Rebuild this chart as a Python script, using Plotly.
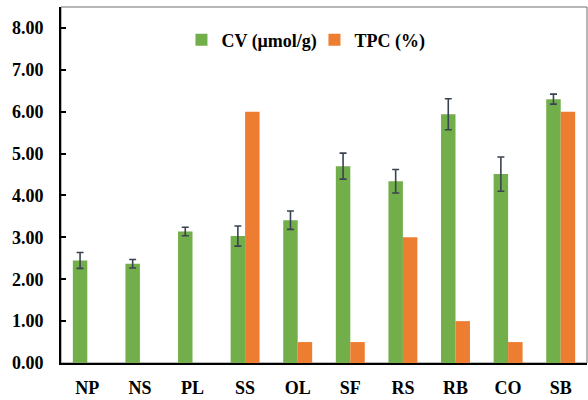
import plotly.graph_objects as go

# Samples and measured values
categories = ["NP", "NS", "PL", "SS", "OL", "SF", "RS", "RB", "CO", "SB"]
cv_values = [2.45, 2.37, 3.14, 3.03, 3.41, 4.70, 4.34, 5.94, 4.51, 6.30]
cv_errors = [0.19, 0.10, 0.10, 0.24, 0.22, 0.31, 0.28, 0.37, 0.41, 0.12]
tpc_values = [0, 0, 0, 6.0, 0.5, 0.5, 3.0, 1.0, 0.5, 6.0]
y_ticks = [0, 1, 2, 3, 4, 5, 6, 7, 8]

FONT = dict(family="Liberation Serif, Times New Roman, serif", size=18,
            color="#000000", weight="bold")

fig = go.Figure()
fig.add_trace(go.Bar(
    x=categories, y=cv_values, name="CV (\u03bcmol/g)",
    marker=dict(color="#72ae49", line=dict(width=0)),
    error_y=dict(type="data", array=cv_errors, visible=True,
                 color="#3b4352", thickness=1.6, width=3.5),
))
fig.add_trace(go.Bar(
    x=categories, y=tpc_values, name="TPC (%)",
    marker=dict(color="#ed7d31", line=dict(width=0)),
))

fig.update_layout(
    width=588, height=400,
    margin=dict(l=61, r=1, t=7, b=37),
    paper_bgcolor="white", plot_bgcolor="white",
    barmode="group", bargap=0.45, bargroupgap=0,
    font=FONT,
    showlegend=True,
    legend=dict(orientation="h", x=0.229, y=0.907, xanchor="left", yanchor="middle",
                font=FONT, bgcolor="rgba(0,0,0,0)", itemwidth=30,
                entrywidth=88, entrywidthmode="pixels"),
    shapes=[dict(type="rect", xref="paper", yref="paper", x0=0, x1=1, y0=0, y1=1,
                 line=dict(color="#6f6f6f", width=1), layer="below")],
)
fig.update_xaxes(
    showline=True, linecolor="#000000", linewidth=2,
    ticks="", showgrid=False, tickfont=FONT, ticklabelstandoff=7,
)
fig.update_yaxes(
    range=[0, 8.5], tickvals=y_ticks, ticktext=[f"{v:.2f}" for v in y_ticks],
    showline=True, linecolor="#000000", linewidth=2,
    ticks="inside", ticklen=5, tickwidth=1.5, tickcolor="#000000",
    showgrid=False, zeroline=False, tickfont=FONT, ticklabelstandoff=12,
)

fig.write_html("out.html")
